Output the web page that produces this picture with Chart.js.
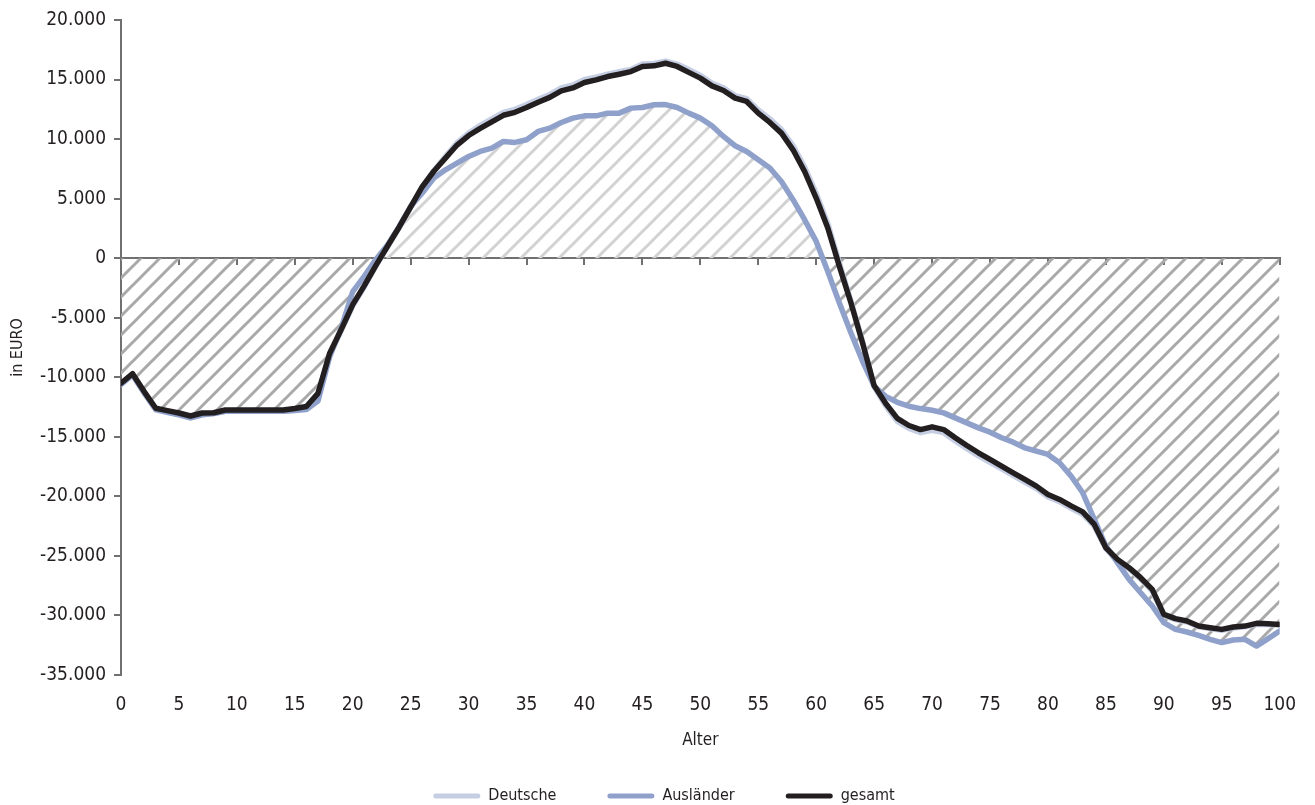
<!DOCTYPE html>
<html lang="de">
<head>
<meta charset="utf-8">
<title>Nettobeitrag nach Alter</title>
<script src="https://cdn.jsdelivr.net/npm/chart.js@4/dist/chart.umd.min.js"></script>
<style>
  html, body { margin: 0; padding: 0; background: #fff; }
  #wrap { width: 1315px; height: 805px; position: relative; }
</style>
</head>
<body>
<div id="wrap"><canvas id="chart"></canvas></div>
<script>
// Alter 0..100
const AGES = [
  0, 1, 2, 3, 4, 5, 6, 7, 8, 9, 10, 11, 12, 13, 14, 15, 16, 17, 18, 19, 20,
  21, 22, 23, 24, 25, 26, 27, 28, 29, 30, 31, 32, 33, 34, 35, 36, 37, 38, 39, 40,
  41, 42, 43, 44, 45, 46, 47, 48, 49, 50, 51, 52, 53, 54, 55, 56, 57, 58, 59, 60,
  61, 62, 63, 64, 65, 66, 67, 68, 69, 70, 71, 72, 73, 74, 75, 76, 77, 78, 79, 80,
  81, 82, 83, 84, 85, 86, 87, 88, 89, 90, 91, 92, 93, 94, 95, 96, 97, 98, 99, 100,
];

const DEUTSCHE = [
  -10600, -9800, -11350, -12750, -12950, -13150, -13400, -13150, -13050, -12850,
  -12850, -12850, -12850, -12850, -12850, -12750, -12600, -11500, -8100, -6100,
  -4000, -2400, -650, 950, 2550, 4250, 5950, 7350, 8550, 9700,
  10500, 11150, 11700, 12250, 12500, 12900, 13350, 13750, 14300, 14550,
  15000, 15200, 15450, 15650, 15850, 16300, 16350, 16550, 16300, 15850,
  15350, 14700, 14300, 13650, 13400, 12450, 11700, 10800, 9450, 7650,
  5450, 2900, -400, -3600, -7000, -10800, -12400, -13700, -14300, -14650,
  -14450, -14650, -15350, -16000, -16600, -17150, -17700, -18250, -18800, -19350,
  -20050, -20450, -21000, -21500, -22500, -24400, -25400, -26100, -26950, -27950,
  -30000, -30350, -30550, -30950, -31100, -31250, -31050, -30950, -30750, -30750,
  -30800,
];

const AUSLAENDER = [
  -10600, -9800, -11300, -12700, -12950, -13150, -13400, -13150, -13050, -12850,
  -12850, -12850, -12850, -12850, -12850, -12800, -12700, -12000, -8300, -5900,
  -2800, -1500, -100, 1100, 2650, 4350, 5470, 6730, 7420, 7990,
  8540, 8960, 9240, 9800, 9720, 9940, 10640, 10920, 11390, 11760,
  11950, 11950, 12180, 12180, 12600, 12650, 12880, 12900, 12650, 12180,
  11760, 11120, 10220, 9440, 8960, 8260, 7570, 6440, 4910, 3230,
  1410, -1110, -3760, -6280, -8660, -10750, -11600, -12100, -12430, -12630,
  -12770, -12990, -13410, -13830, -14250, -14610, -15080, -15450, -15920, -16210,
  -16480, -17180, -18300, -19700, -21940, -24180, -25570, -26970, -28090, -29210,
  -30610, -31170, -31390, -31670, -32000, -32280, -32060, -32000, -32570, -31950,
  -31300,
];

const GESAMT = [
  -10500, -9700, -11200, -12600, -12800, -13000, -13250, -13000, -12980, -12750,
  -12750, -12750, -12750, -12750, -12750, -12620, -12450, -11350, -8000, -6000,
  -3900, -2300, -600, 1000, 2600, 4300, 6000, 7300, 8400, 9500,
  10300, 10900, 11450, 12000, 12250, 12650, 13100, 13500, 14050, 14300,
  14750, 14970, 15250, 15450, 15670, 16100, 16150, 16370, 16100, 15600,
  15120, 14470, 14080, 13440, 13160, 12180, 11400, 10500, 9100, 7280,
  5050, 2530, -690, -3760, -7120, -10700, -12200, -13450, -14050, -14390,
  -14160, -14390, -15080, -15730, -16340, -16900, -17470, -18020, -18580, -19140,
  -19840, -20260, -20800, -21300, -22360, -24310, -25290, -25990, -26830, -27810,
  -29910, -30270, -30470, -30890, -31030, -31170, -30970, -30890, -30660, -30690,
  -30750,
];

const Y_MIN = -35000;
const Y_MAX = 20000;
const Y_STEP = 5000;

const FONT = "'DejaVu Sans Condensed', 'Liberation Sans Narrow', sans-serif";
const TEXT = '#231f20';
const AXIS = '#707070';

// diagonal hatch, like the print version
function hatch(color) {
  const s = 19;
  const c = document.createElement('canvas');
  c.width = s;
  c.height = s;
  const g = c.getContext('2d');
  g.strokeStyle = color;
  g.lineWidth = 3;
  g.lineCap = 'square';
  g.beginPath();
  g.moveTo(0, s); g.lineTo(s, 0);
  g.moveTo(-s / 2, s / 2); g.lineTo(s / 2, -s / 2);
  g.moveTo(s / 2, s * 1.5); g.lineTo(s * 1.5, s / 2);
  g.stroke();
  return g.createPattern(c, 'repeat');
}

function fmt(v) {
  const n = String(Math.abs(v)).replace(/\B(?=(\d{3})+(?!\d))/g, '.');
  return v < 0 ? '-' + n : n;
}

const lineBase = {
  borderWidth: 5.5,
  pointRadius: 0,
  pointHoverRadius: 0,
  tension: 0,
  borderJoinStyle: 'round',
  borderCapStyle: 'round',
};

new Chart(document.getElementById('chart'), {
  type: 'line',
  data: {
    labels: AGES,
    datasets: [
      { ...lineBase, label: 'Deutsche', data: DEUTSCHE, borderColor: '#c5cee2', fill: false, order: 3 },
      {
        ...lineBase,
        label: 'Ausländer',
        data: AUSLAENDER,
        borderColor: '#8fa1cb',
        fill: { target: 'origin', above: hatch('#d2d2d2'), below: hatch('#a9a9a9') },
        order: 2,
      },
      { ...lineBase, label: 'gesamt', data: GESAMT, borderColor: '#231f20', fill: false, order: 1 },
    ],
  },
  options: {
    responsive: true,
    maintainAspectRatio: false,
    animation: false,
    // left padding keeps the legend centred where the print has it
    layout: { padding: { top: 20, right: 27, bottom: 0, left: 40 } },
    scales: {
      x: {
        type: 'linear',
        position: 'bottom',
        min: 0,
        max: 100,
        ticks: { stepSize: 5, padding: 19, color: TEXT, font: { family: FONT, size: 19 } },
        grid: { display: false, drawTicks: false },
        border: { display: false },
        title: {
          display: true,
          text: 'Alter',
          color: TEXT,
          font: { family: FONT, size: 17 },
          padding: { top: 0, bottom: -14 },
        },
        afterFit: (scale) => { scale.height = 62; },
      },
      // zero line with its tick marks
      x0: {
        type: 'linear',
        axis: 'x',
        position: { y: 0 },
        min: 0,
        max: 100,
        ticks: { stepSize: 5, display: false },
        grid: { drawOnChartArea: false, drawTicks: true, tickLength: 6, color: AXIS, lineWidth: 2 },
        border: { color: AXIS, width: 2 },
      },
      y: {
        min: Y_MIN,
        max: Y_MAX,
        ticks: {
          stepSize: Y_STEP,
          padding: 8,
          color: TEXT,
          font: { family: FONT, size: 19 },
          callback: (v) => fmt(v),
        },
        grid: { drawOnChartArea: false, drawTicks: true, tickLength: 7, color: AXIS, lineWidth: 2 },
        border: { color: AXIS, width: 2 },
        title: {
          display: true,
          text: 'in EURO',
          color: TEXT,
          font: { family: FONT, size: 16 },
          padding: { top: -32, bottom: 0 },
        },
        afterFit: (scale) => { scale.width = 81; },
      },
    },
    plugins: {
      filler: { drawTime: 'beforeDatasetsDraw' },
      tooltip: { enabled: false },
      legend: {
        position: 'bottom',
        maxHeight: 68,
        labels: {
          color: TEXT,
          font: { family: FONT, size: 16 },
          boxWidth: 47,
          boxHeight: 5,
          padding: 51,
          useBorderRadius: true,
          borderRadius: 2.5,
          sort: (a, b) => a.datasetIndex - b.datasetIndex,
          generateLabels: (chart) => Chart.defaults.plugins.legend.labels.generateLabels(chart).map((it) => ({
            ...it,
            fillStyle: chart.data.datasets[it.datasetIndex].borderColor,
            strokeStyle: 'transparent',
            lineWidth: 0,
          })),
        },
      },
    },
  },
});
</script>
</body>
</html>
